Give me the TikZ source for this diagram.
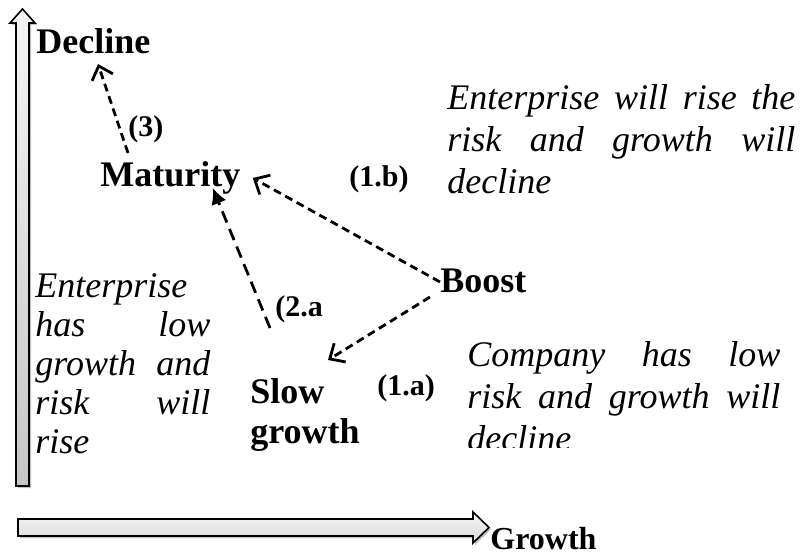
\documentclass[tikz,border=0pt]{standalone}
\usepackage{fontspec}
\setmainfont{Liberation Serif}
\usetikzlibrary{arrows.meta,shadows}
\setlength\parindent{0pt}
% a justified line of given width, words split by \hfill
\newcommand{\jline}[2]{\leavevmode\hbox to #1{#2}}
\tikzset{
    stage/.style={font=\bfseries\fontsize{18}{20}\selectfont, inner sep=0pt, anchor=base west},
    steplbl/.style={font=\bfseries\fontsize{15}{17}\selectfont, inner sep=0pt, anchor=base west},
    note/.style={font=\itshape\fontsize{18}{21}\selectfont, inner sep=0pt, anchor=north west, align=left},
    move/.style={dashed, dash pattern=on 4pt off 2.5pt, line width=1.4pt, -{Straight Barb[length=6pt,width=11pt]}},
    bigarrow/.style={draw=black, line width=0.8pt, drop shadow={shadow xshift=1pt, shadow yshift=-1pt, fill=gray!70, opacity=0.7}}
}
\begin{document}
\begin{tikzpicture}[x=0.5pt,y=-0.5pt]
                \useasboundingbox (0,0) rectangle (803,555);
                % axes
                \path[bigarrow, top color=gray!8, bottom color=gray!45]
                    (16,486) -- (16,23) -- (10,23) -- (22.5,9) -- (35,23) -- (29,23) -- (29,486) -- cycle;
                \path[bigarrow, top color=gray!8, bottom color=gray!30]
                    (18,519) -- (473,519) -- (473,512) -- (489,527.5) -- (473,543) -- (473,536) -- (18,536) -- cycle;
                \node[stage, font=\bfseries\fontsize{16}{18}\selectfont] (growth) at (490,549) {Growth};
                % stages
                \node[stage] (decline) at (36,54) {Decline};
                \node[stage] (maturity) at (100,187) {Maturity};
                \node[stage] (boost) at (440,293) {Boost};
                \node[stage, anchor=north west, align=left, font=\bfseries\fontsize{18}{20}\selectfont] (slow) at (250,378) {Slow\\growth};
                \node[steplbl] (s3) at (128,137) {(3)};
                \node[steplbl] (s1b) at (349,187) {(1.b)};
                \node[steplbl] (s2a) at (275,317) {(2.a};
                \node[steplbl] (s1a) at (377,396) {(1.a)};
                % notes
                \node[note, text width=174pt] (rnote) at (447,84)
                    {\jline{174pt}{Enterprise\hfill will\hfill rise\hfill the}\\
                     \jline{174pt}{risk\hfill and\hfill growth\hfill will}\\decline};
                \node[note, text width=87.5pt, font=\itshape\fontsize{18}{19.5}\selectfont] (lnote) at (35,273)
                    {Enterprise\\\jline{87.5pt}{has\hfill low}\\\jline{87.5pt}{growth\hfill and}\\
                     \jline{87.5pt}{risk\hfill will}\\rise};
                \begin{scope}
                    \clip (460,320) rectangle (803,448);
                    \node[note, text width=156.5pt] (cnote) at (467,341)
                        {\jline{156.5pt}{Company\hfill has\hfill low}\\
                         \jline{156.5pt}{risk\hfill and\hfill growth\hfill will}\\decline};
                \end{scope}
                % moves
                \draw[move] ([shift={(28,-34)}]maturity.base west) -- ([shift={(62,10)}]decline.base west);
                \draw[move] ([shift={(0,-11)}]boost.base west) -- ([shift={(12,-9)}]maturity.base east);
                \draw[move, dash pattern=on 6pt off 3.5pt, -{Latex[length=8pt,width=8pt]}] ([shift={(-5,11)}]s2a.base west) -- ([shift={(-28,1)}]maturity.base east);
                \draw[move] ([shift={(-10,4)}]boost.base west) -- ([shift={(78,-18)}]slow.north west);
            \end{tikzpicture}
\end{document}
